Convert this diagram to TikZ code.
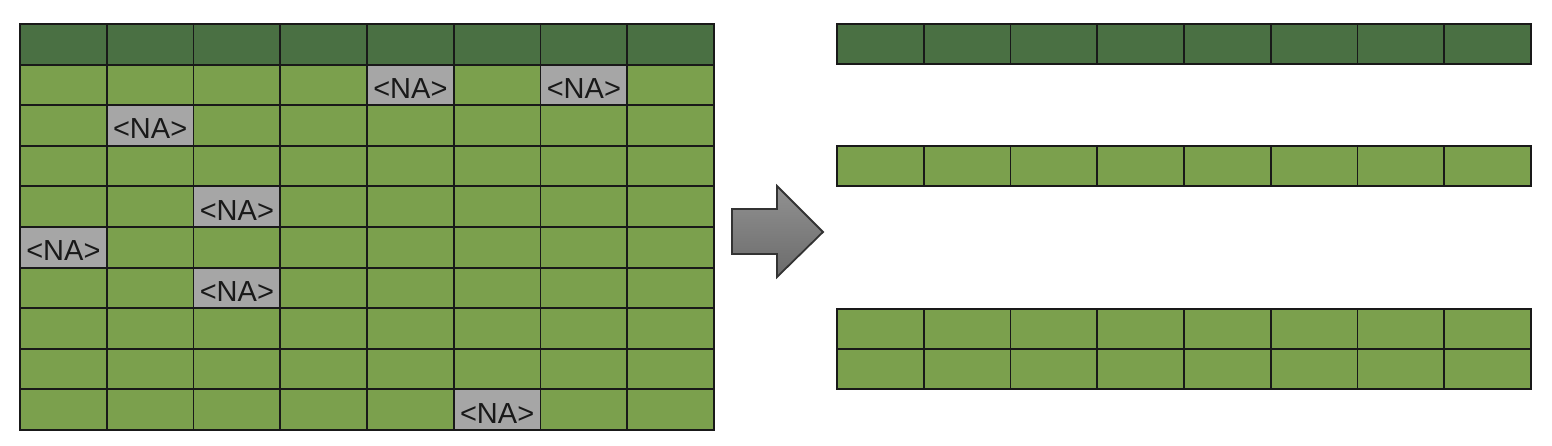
\documentclass[tikz,border=0pt]{standalone}
\usepackage{fontspec}
\setmainfont{Liberation Sans}
\usetikzlibrary{positioning}
\definecolor{headgreen}{HTML}{4A7043}
\definecolor{cellgreen}{HTML}{7BA04D}
\definecolor{nagray}{HTML}{A6A6A6}
\tikzset{
  cell/.style={draw=black!90, line width=1.9pt, fill=cellgreen,
    minimum width=86.75pt, minimum height=40.6pt, inner sep=0pt, outer sep=0pt},
  headcell/.style={cell, fill=headgreen},
  nacell/.style={cell, fill=nagray, text=black!90, text height=27pt, text depth=0pt,
    font=\fontsize{29}{30}\selectfont},
  rowcell/.style={cell, minimum height=40pt},
  rowhead/.style={rowcell, fill=headgreen},
}
\begin{document}
\begin{tikzpicture}[x=1pt, y=-1pt]
\useasboundingbox (0,0) rectangle (1552,446);

% table with missing values
\foreach \c in {0,...,7} {
  \node[headcell] (h-\c) at ({20+86.75*(\c+0.5)}, 44.3) {};
  \foreach \r in {1,...,9}
    \node[cell] (t-\r-\c) at ({20+86.75*(\c+0.5)}, {24+40.6*(\r+0.5)}) {};
}
\foreach \r/\c in {1/4,1/6,2/1,4/2,5/0,6/2,9/5}
  \node[nacell] (na-\r-\c) at (t-\r-\c) {<NA>};

% arrow
\draw[draw=black!80, line width=1.8pt, line join=miter, top color=black!43, bottom color=black!58]
  (732,209) -- (777,209) -- (777,186) -- (823,232) -- (777,277)
  -- (777,254) -- (732,254) -- cycle;

% result rows
\foreach \c in {0,...,7} {
  \node[rowhead] (rh-\c) at ({837+86.75*(\c+0.5)}, 44) {};
  \node[rowcell] (ra-\c) at ({837+86.75*(\c+0.5)}, 166) {};
  \node[rowcell] (rb-\c) at ({837+86.75*(\c+0.5)}, 329) {};
  \node[rowcell] (rc-\c) at ({837+86.75*(\c+0.5)}, 369) {};
}

\end{tikzpicture}
\end{document}
